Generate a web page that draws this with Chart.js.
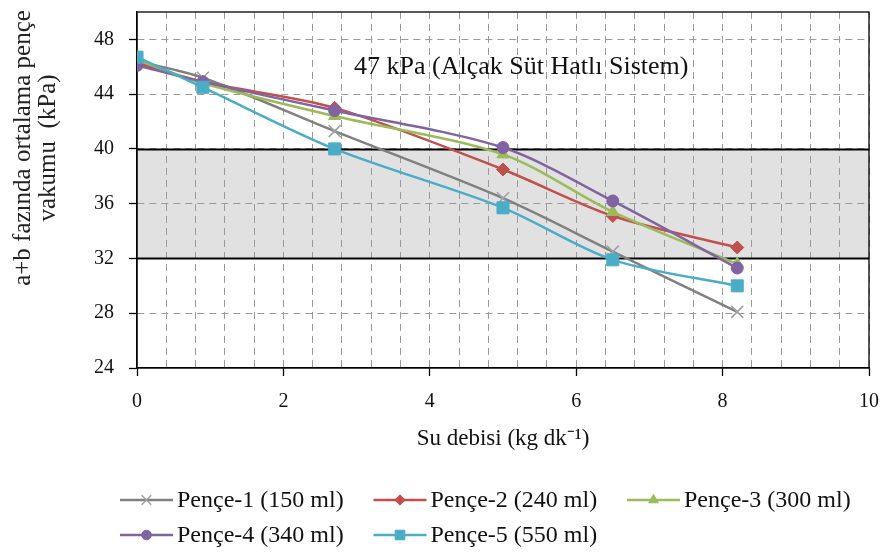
<!DOCTYPE html>
<html>
<head>
<meta charset="utf-8">
<script src="https://cdn.jsdelivr.net/npm/chart.js@4.4.1/dist/chart.umd.min.js"></script>
<style>
html, body { margin: 0; padding: 0; background: #ffffff; }
#wrap { width: 884px; height: 554px; }
</style>
</head>
<body>
<div id="wrap"><canvas id="c" width="884" height="554"></canvas></div>
<script>
// ---- data ----
const xValues = [0, 0.9, 2.7, 5.0, 6.5, 8.2];
const pence1 = [46.4, 45.2, 41.3, 36.4, 32.5, 28.1];
const pence2 = [46.3, 44.9, 43.0, 38.5, 35.1, 32.8];
const pence3 = [46.5, 44.8, 42.4, 39.6, 35.4, 31.6];
const pence4 = [46.1, 44.9, 42.8, 40.1, 36.2, 31.3];
const pence5 = [46.7, 44.5, 40.0, 35.7, 31.9, 30.0];
const seriesLabels = ['Pençe-1 (150 ml)', 'Pençe-2 (240 ml)', 'Pençe-3 (300 ml)', 'Pençe-4 (340 ml)', 'Pençe-5 (550 ml)'];
const xRange = [0, 10];
const yRange = [24, 50];
const xLabelStep = 2;
const xGridStep = 0.4;
const yTickStep = 4;
const bandRange = [32, 40];
const annotationText = '47 kPa (Alçak Süt Hatlı Sistem)';
const annotationAt = [5.25, 46];
const xTitle = 'Su debisi (kg dk\u207B\u00B9)';
const yTitleLines = ['a+b fazında ortalama pençe', 'vakumu  (kPa)'];

// ---- styles ----
const FONT = "'Liberation Serif', 'Times New Roman', serif";
const seriesStyles = [
  { line: '#808080', point: '#a0a0a0', style: 'crossRot', radius: 8.5, pbw: 1.5 },
  { line: '#c0504d', point: '#c0504d', style: 'rectRot', radius: 6.5, pbw: 1 },
  { line: '#9bbb59', point: '#9bbb59', style: 'triangle', radius: 7, pbw: 1 },
  { line: '#8064a2', point: '#8064a2', style: 'circle', radius: 6, pbw: 1 },
  { line: '#4bacc6', point: '#4bacc6', style: 'rect', radius: 8.5, pbw: 1 }
];
const seriesValues = [pence1, pence2, pence3, pence4, pence5];

const datasets = seriesValues.map((vals, i) => ({
  label: seriesLabels[i],
  data: xValues.map((x, j) => ({ x: x, y: vals[j] })),
  borderColor: seriesStyles[i].line,
  backgroundColor: seriesStyles[i].point,
  pointBackgroundColor: seriesStyles[i].point,
  pointBorderColor: seriesStyles[i].point,
  pointBorderWidth: seriesStyles[i].pbw,
  pointStyle: seriesStyles[i].style,
  pointRadius: seriesStyles[i].radius,
  borderWidth: 2.5,
  tension: 0.3,
  fill: false,
  order: seriesValues.length - 1 - i
}));

const isMajorX = v => Math.abs(v / xLabelStep - Math.round(v / xLabelStep)) < 1e-6;

const decorPlugin = {
  id: 'decor',
  beforeDraw(chart) {
    const { ctx, chartArea: a, scales } = chart;
    ctx.save();
    ctx.fillStyle = '#ffffff';
    ctx.fillRect(0, 0, chart.width, chart.height);
    const yTop = scales.y.getPixelForValue(bandRange[1]);
    const yBot = scales.y.getPixelForValue(bandRange[0]);
    ctx.fillStyle = '#e1e1e1';
    ctx.fillRect(a.left, yTop, a.right - a.left, yBot - yTop);
    ctx.restore();
  },
  beforeDatasetsDraw(chart) {
    const { ctx, chartArea: a, scales } = chart;
    ctx.save();
    ctx.strokeStyle = '#000000';
    ctx.lineWidth = 2;
    bandRange.forEach(v => {
      const y = Math.round(scales.y.getPixelForValue(v)) + 0.5;
      ctx.beginPath(); ctx.moveTo(a.left, y); ctx.lineTo(a.right, y); ctx.stroke();
    });
    ctx.lineWidth = 1.3;
    ctx.strokeRect(a.left, a.top, a.right - a.left, a.bottom - a.top);
    ctx.restore();
  },
  afterDraw(chart) {
    const { ctx, scales } = chart;
    ctx.save();
    // annotation
    ctx.fillStyle = '#111111';
    ctx.font = '26px ' + FONT;
    ctx.textAlign = 'center';
    ctx.textBaseline = 'middle';
    ctx.fillText(annotationText, scales.x.getPixelForValue(annotationAt[0]), scales.y.getPixelForValue(annotationAt[1]));
    // y title
    ctx.save();
    ctx.translate(35, 148);
    ctx.rotate(-Math.PI / 2);
    ctx.font = '25px ' + FONT;
    ctx.fillStyle = '#222222';
    ctx.fillText(yTitleLines[0], 0, -12);
    ctx.fillText(yTitleLines[1], 0, 13);
    ctx.restore();
    // legend (grid layout)
    const colX = [120, 373.5, 627];
    const rowY = [500, 535];
    const lineLen = 53;
    chart.data.datasets.forEach((ds, i) => {
      const x0 = colX[i % 3];
      const y = rowY[Math.floor(i / 3)];
      ctx.strokeStyle = ds.borderColor;
      ctx.lineWidth = 2.5;
      ctx.beginPath(); ctx.moveTo(x0, y); ctx.lineTo(x0 + lineLen, y); ctx.stroke();
      ctx.fillStyle = ds.pointBackgroundColor;
      ctx.strokeStyle = ds.pointBorderColor;
      ctx.lineWidth = ds.pointBorderWidth;
      if (Chart.helpers && Chart.helpers.drawPoint) {
        Chart.helpers.drawPoint(ctx, { pointStyle: ds.pointStyle, radius: ds.pointRadius * 0.8, rotation: 0, borderWidth: ds.pointBorderWidth }, x0 + lineLen / 2, y);
      } else {
        ctx.beginPath(); ctx.arc(x0 + lineLen / 2, y, 4, 0, Math.PI * 2); ctx.fill();
      }
      ctx.fillStyle = '#111111';
      ctx.font = '24px ' + FONT;
      ctx.textAlign = 'left';
      ctx.textBaseline = 'middle';
      ctx.fillText(ds.label, x0 + lineLen + 4, y + 1);
    });
    ctx.restore();
  }
};

new Chart(document.getElementById('c'), {
  type: 'line',
  data: { datasets: datasets },
  plugins: [decorPlugin],
  options: {
    responsive: false,
    animation: false,
    devicePixelRatio: 1,
    layout: { padding: { left: 94, right: 15, top: 12, bottom: 96 } },
    plugins: { legend: { display: false }, tooltip: { enabled: false } },
    scales: {
      x: {
        type: 'linear',
        min: xRange[0], max: xRange[1],
        afterFit(scale) { scale.height = 90; scale.paddingLeft = 0; scale.paddingRight = 0; },
        ticks: {
          stepSize: xGridStep,
          autoSkip: false,
          maxRotation: 0,
          includeBounds: false,
          padding: 14,
          color: '#111111',
          font: { family: FONT, size: 20 },
          callback: v => isMajorX(v) ? String(Math.round(v)) : ''
        },
        grid: {
          color: c => (c.tick && c.tick.value === xRange[0]) ? 'rgba(0,0,0,0)' : '#9a9a9a',
          lineWidth: 1,
          tickLength: 8,
          tickColor: c => (c.tick && isMajorX(c.tick.value)) ? '#000000' : 'rgba(0,0,0,0)',
          tickWidth: 1.3
        },
        border: { display: true, color: '#000000', width: 1.3, dash: [7, 5] },
        title: { display: true, text: xTitle, color: '#111111', font: { family: FONT, size: 23 }, padding: { top: 0, bottom: 5 } }
      },
      y: {
        type: 'linear',
        min: yRange[0], max: yRange[1],
        afterFit(scale) { scale.width = 43; scale.paddingTop = 0; scale.paddingBottom = 0; },
        ticks: {
          stepSize: yTickStep,
          includeBounds: false,
          padding: 15,
          color: '#111111',
          font: { family: FONT, size: 20 }
        },
        grid: {
          color: c => (c.tick && (c.tick.value === yRange[0])) ? 'rgba(0,0,0,0)' : '#9a9a9a',
          lineWidth: 1,
          tickLength: 8,
          tickColor: '#000000',
          tickWidth: 1.3
        },
        border: { display: true, color: '#000000', width: 1.3, dash: [7, 5] }
      }
    }
  }
});
</script>
</body>
</html>
